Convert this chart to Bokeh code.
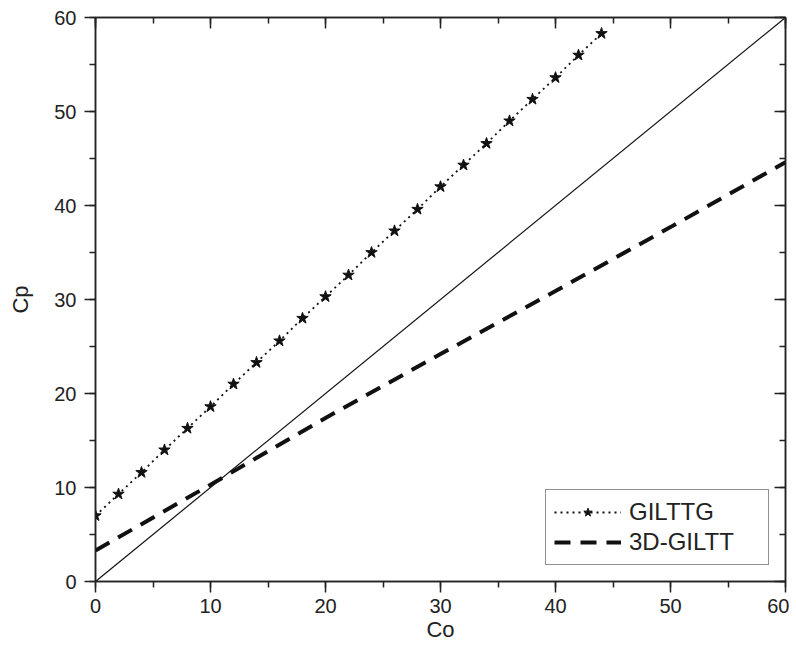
from bokeh.plotting import figure
from bokeh.models import (LinearAxis, SingleIntervalTicker, Range1d, Legend, LegendItem)
from bokeh.embed import file_html
from bokeh.resources import INLINE

# Data
gil_x = [0, 2, 4, 6, 8, 10, 12, 14, 16, 18, 20, 22, 24, 26, 28, 30, 32, 34, 36, 38, 40, 42, 44]
gil_y = [7.0, 9.3, 11.6, 14.0, 16.3, 18.6, 21.0, 23.3, 25.6, 28.0, 30.3, 32.6, 35.0, 37.3,
         39.6, 42.0, 44.3, 46.6, 49.0, 51.3, 53.6, 56.0, 58.3]
d3_x = [0, 10, 20, 30, 40, 50, 60]
d3_y = [3.3, 10.3, 17.4, 24.2, 30.9, 37.7, 44.6]
ref_x = [0, 60]
ref_y = [0, 60]
x_label = "Co"
y_label = "Cp"
series_names = ["GILTTG", "3D-GILTT"]

FONT = "Liberation Sans"
AX = "#222222"

p = figure(width=789, height=654, output_backend="svg", toolbar_location=None,
           x_range=Range1d(0, 60), y_range=Range1d(0, 60),
           x_axis_location=None, y_axis_location=None,
           min_border_left=95, min_border_right=4, min_border_top=17, min_border_bottom=73)
p.grid.visible = False
p.outline_line_color = AX
p.outline_line_width = 1.5
p.background_fill_color = "white"
p.border_fill_color = "white"

def mk_axis(labels, out_ticks, label=None, std=8, lstd=10):
    ax = LinearAxis(ticker=SingleIntervalTicker(interval=10, num_minor_ticks=2))
    ax.axis_line_color = AX
    ax.axis_line_width = 1.5
    ax.major_tick_line_color = AX
    ax.minor_tick_line_color = AX
    ax.major_tick_line_width = 1.5
    ax.minor_tick_line_width = 1.5
    if out_ticks:
        ax.major_tick_out = 11
        ax.major_tick_in = 0
        ax.minor_tick_out = 6
        ax.minor_tick_in = 0
    else:
        ax.major_tick_out = 0
        ax.major_tick_in = 11
        ax.minor_tick_out = 0
        ax.minor_tick_in = 6
    if labels:
        ax.major_label_text_font = FONT
        ax.major_label_text_font_size = "20px"
        ax.major_label_text_color = AX
        ax.major_label_standoff = std
        ax.axis_label = label
        ax.axis_label_text_font = FONT
        ax.axis_label_text_font_size = "22px"
        ax.axis_label_text_font_style = "normal"
        ax.axis_label_text_color = AX
        ax.axis_label_standoff = lstd
    else:
        ax.major_label_text_font_size = "0px"
        ax.major_label_text_color = None
    return ax

p.add_layout(mk_axis(True, True, x_label, std=6, lstd=1), "below")
p.add_layout(mk_axis(True, True, y_label, std=8, lstd=18), "left")
p.add_layout(mk_axis(False, False), "above")
p.add_layout(mk_axis(False, False), "right")

r_ref = p.line(ref_x, ref_y, line_color="#111111", line_width=1.2)
r_gl = p.line(gil_x, gil_y, line_color="#111111", line_width=1.8, line_dash="2 4")
r_gs = p.scatter(gil_x, gil_y, marker="star", size=12, fill_color="#111111", line_color="#111111")
r_d3 = p.line(d3_x, d3_y, line_color="#111111", line_width=4, line_dash="16 10")

legend = Legend(items=[LegendItem(label=series_names[0], renderers=[r_gl, r_gs]),
                       LegendItem(label=series_names[1], renderers=[r_d3])],
                location="bottom_right")
legend.label_text_font = FONT
legend.label_text_font_size = "24px"
legend.label_text_color = AX
legend.border_line_color = AX
legend.border_line_width = 1.5
legend.glyph_width = 67
legend.glyph_height = 22
legend.label_height = 22
legend.label_width = 131
legend.label_standoff = 8
legend.spacing = 2
legend.padding = 8
legend.margin = 16
legend.background_fill_alpha = 1
p.add_layout(legend)

open("out.html", "w").write(file_html(p, INLINE))
